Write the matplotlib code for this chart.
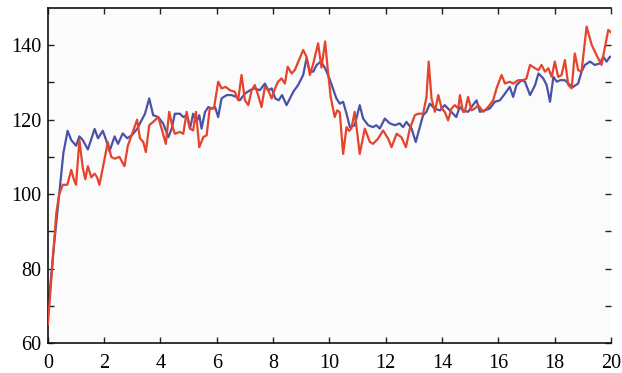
import matplotlib
matplotlib.use("Agg")
import matplotlib.pyplot as plt
from matplotlib.ticker import FixedLocator

# Blue series (time, value)
blue_t = [0.0, 0.2, 0.4, 0.55, 0.7, 0.83, 1.0, 1.12, 1.24, 1.42, 1.66, 1.78, 1.95, 2.07, 2.19,
          2.37, 2.49, 2.66, 2.82, 2.98, 3.17, 3.45, 3.6, 3.74, 3.92, 4.1, 4.28, 4.4, 4.51, 4.69,
          4.81, 4.93, 5.05, 5.16, 5.28, 5.38, 5.46, 5.58, 5.70, 5.82, 5.94, 6.05, 6.17, 6.35,
          6.52, 6.70, 6.82, 7.0, 7.18, 7.35, 7.53, 7.71, 7.83, 7.95, 8.08, 8.2, 8.32, 8.48, 8.6,
          8.72, 8.89, 9.07, 9.19, 9.31, 9.43, 9.55, 9.70, 9.85, 10.0, 10.12, 10.25, 10.37, 10.49,
          10.61, 10.73, 10.9, 11.08, 11.2, 11.38, 11.55, 11.67, 11.79, 11.97, 12.15, 12.33, 12.5,
          12.62, 12.74, 12.92, 13.07, 13.2, 13.33, 13.45, 13.57, 13.75, 13.93, 14.1, 14.28, 14.51,
          14.63, 14.75, 14.93, 15.05, 15.23, 15.35, 15.53, 15.7, 15.88, 16.06, 16.24, 16.41, 16.53,
          16.65, 16.83, 16.95, 17.13, 17.31, 17.43, 17.6, 17.72, 17.84, 17.96, 18.08, 18.2, 18.37,
          18.55, 18.66, 18.84, 18.96, 19.08, 19.26, 19.43, 19.61, 19.73, 19.85, 19.97, 20.0]
blue_v = [68, 85, 100, 111, 117, 114.5, 113, 115.5, 114.5, 112, 117.5, 115, 117, 114.5, 111.5,
          115.5, 113.5, 116.3, 115, 115.8, 117.5, 121.6, 125.7, 121.2, 120.7, 118.9, 115.3, 117.6, 121.6, 121.6,
          120.7, 121.2, 117.6, 121.6, 119.4, 121.2, 117.6, 122, 123.4, 123, 123.4, 120.7, 125.7, 126.6,
          126.6, 126.1, 125.2, 127, 127.9, 128.4, 127.9, 129.7, 127.9, 128.4, 125.7, 125.2, 126.6, 123.9, 125.7,
          127.5, 129.3, 132, 136.5, 132.9, 132.9, 134.7, 135.6, 133.8, 131.1, 128.5, 125.7, 124.3, 124.8,
          121.6, 118, 118.5, 123.9, 120.3, 118.5, 118, 118.5, 117.6, 120.3, 119, 118.5, 119,
          118, 119.4, 117.6, 114, 117.6, 121.2, 122.1, 124.3, 122.9, 122.5, 123.9, 122.5, 120.7,
          123.4, 122.5, 122.1, 123.4, 125.2, 122.1, 122.5, 123, 124.8, 125.2, 127, 128.8, 126.1,
          129.3, 130.6, 130.2, 126.6, 129.3, 132.4, 131.1, 129.3, 124.8, 131.5, 130.2, 130.6, 130.6,
          129.3, 128.8, 129.7, 132.9, 134.7, 135.6, 134.7, 135.1, 136.9, 135.6, 136.9, 136.9]

# Red series (time, value)
red_t = [0.0, 0.15, 0.3, 0.4, 0.53, 0.69, 0.83, 0.92, 1.0, 1.12, 1.24, 1.33, 1.42, 1.54, 1.66,
         1.75, 1.83, 1.95, 2.13, 2.25, 2.37, 2.54, 2.72, 2.84, 2.96, 3.17, 3.27, 3.39, 3.48, 3.6,
         3.74, 3.92, 4.04, 4.19, 4.31, 4.4, 4.51, 4.69, 4.81, 4.93, 5.05, 5.16, 5.26, 5.38, 5.52,
         5.64, 5.75, 5.9, 6.05, 6.17, 6.32, 6.47, 6.64, 6.76, 6.88, 7.0, 7.12, 7.24, 7.35, 7.47,
         7.59, 7.71, 7.83, 7.95, 8.07, 8.18, 8.30, 8.42, 8.52, 8.66, 8.77, 8.95, 9.07, 9.19, 9.31,
         9.43, 9.6, 9.72, 9.85, 9.95, 10.05, 10.19, 10.28, 10.37, 10.49, 10.61, 10.7, 10.78, 10.9,
         11.08, 11.26, 11.44, 11.55, 11.73, 11.91, 12.09, 12.21, 12.39, 12.56, 12.72, 12.86, 13.04,
         13.16, 13.33, 13.45, 13.53, 13.63, 13.75, 13.87, 13.99, 14.1, 14.22, 14.34, 14.46, 14.58,
         14.64, 14.75, 14.81, 14.93, 15.05, 15.17, 15.29, 15.47, 15.64, 15.82, 15.94, 16.12, 16.24,
         16.41, 16.53, 16.71, 16.88, 17.0, 17.13, 17.31, 17.43, 17.54, 17.66, 17.78, 17.90, 18.01,
         18.13, 18.25, 18.37, 18.49, 18.61, 18.72, 18.84, 18.96, 19.14, 19.32, 19.49, 19.67, 19.82,
         19.91, 20.0]
red_v = [65, 80, 95, 100, 102.5, 102.5, 106.5, 104, 102.5, 114.5, 107, 104, 107.5, 104.5, 105.5,
         104.5, 102.5, 107, 114, 110, 109.5, 110, 107.5, 113, 115.5, 120, 115, 114, 111.3, 118.5,
         119.4, 120.7, 117.6, 113.5, 122.1, 118.9, 116.2, 116.7, 116.2, 122.1, 117.6, 117.1, 122.1, 112.6, 115.3,
         115.8, 123, 123, 130.2, 128.4, 128.8, 127.9, 127.5, 125.2, 132, 125.2, 123.9, 127.9, 129.3, 126.6,
         123.4, 128.8, 127.9, 125.7, 128.4, 130.2, 131.1, 129.7, 134.2, 132.4, 133.3, 136.5, 138.7, 136.9, 132,
         135.1, 140.5, 134, 141, 133, 126, 120.7, 122.5, 122, 110.8, 118, 117, 117.6, 122.1,
         110.8, 117.6, 114, 113.5, 114.9, 117.1, 114.9, 112.6, 116.2, 115.3, 112.6, 117.6, 121.2,
         121.6, 121.6, 126, 135.6, 125.7, 122.1, 126.6, 123, 122.1, 119.8, 123, 123.9, 123,
         126.6, 122.1, 122.1, 126.1, 122.5, 123, 123.9, 122.1, 123.4, 125.2, 128.4, 132, 129.7,
         130.2, 129.7, 130.6, 130.6, 131, 134.7, 133.8, 133.3, 134.7, 132.9, 133.8, 131.5, 135.6,
         131.5, 132, 136, 129.3, 128.4, 137.8, 133.3, 132.9, 145, 140.1, 137.4, 134.7, 140.5,
         144.1, 143.5]

x_ticks = [0, 2, 4, 6, 8, 10, 12, 14, 16, 18, 20]
y_labels = [60, 80, 100, 120, 140]
y_minor = [70, 90, 110, 130]

plt.rcParams['font.family'] = ['Liberation Serif', 'DejaVu Serif']

fig = plt.figure(figsize=(6.22, 3.73), dpi=100)
ax = fig.add_axes([0.077, 0.0804, 0.905, 0.8982])
ax.set_facecolor('#fbfbfb')

ax.plot(blue_t, blue_v, color='#4a52a8', lw=1.6, zorder=2)
ax.plot(red_t, red_v, color='#e5432c', lw=1.6, zorder=3)

ax.set_xlim(0, 20)
ax.set_ylim(60, 150)
ax.xaxis.set_major_locator(FixedLocator(x_ticks))
ax.yaxis.set_major_locator(FixedLocator(y_labels))
ax.yaxis.set_minor_locator(FixedLocator(y_minor))
ax.tick_params(axis='both', which='both', direction='in', top=True, right=True,
               length=4.5, width=1.0, color='#222222', labelsize=14.5)
ax.tick_params(axis='y', which='major', pad=4.5)
ax.tick_params(axis='x', which='major', pad=8)

for s in ['left', 'bottom', 'top']:
    ax.spines[s].set_linewidth(1.2)
    ax.spines[s].set_color('#111111')
ax.spines['right'].set_visible(False)

fig.savefig('out.png', dpi=100, facecolor='white')
